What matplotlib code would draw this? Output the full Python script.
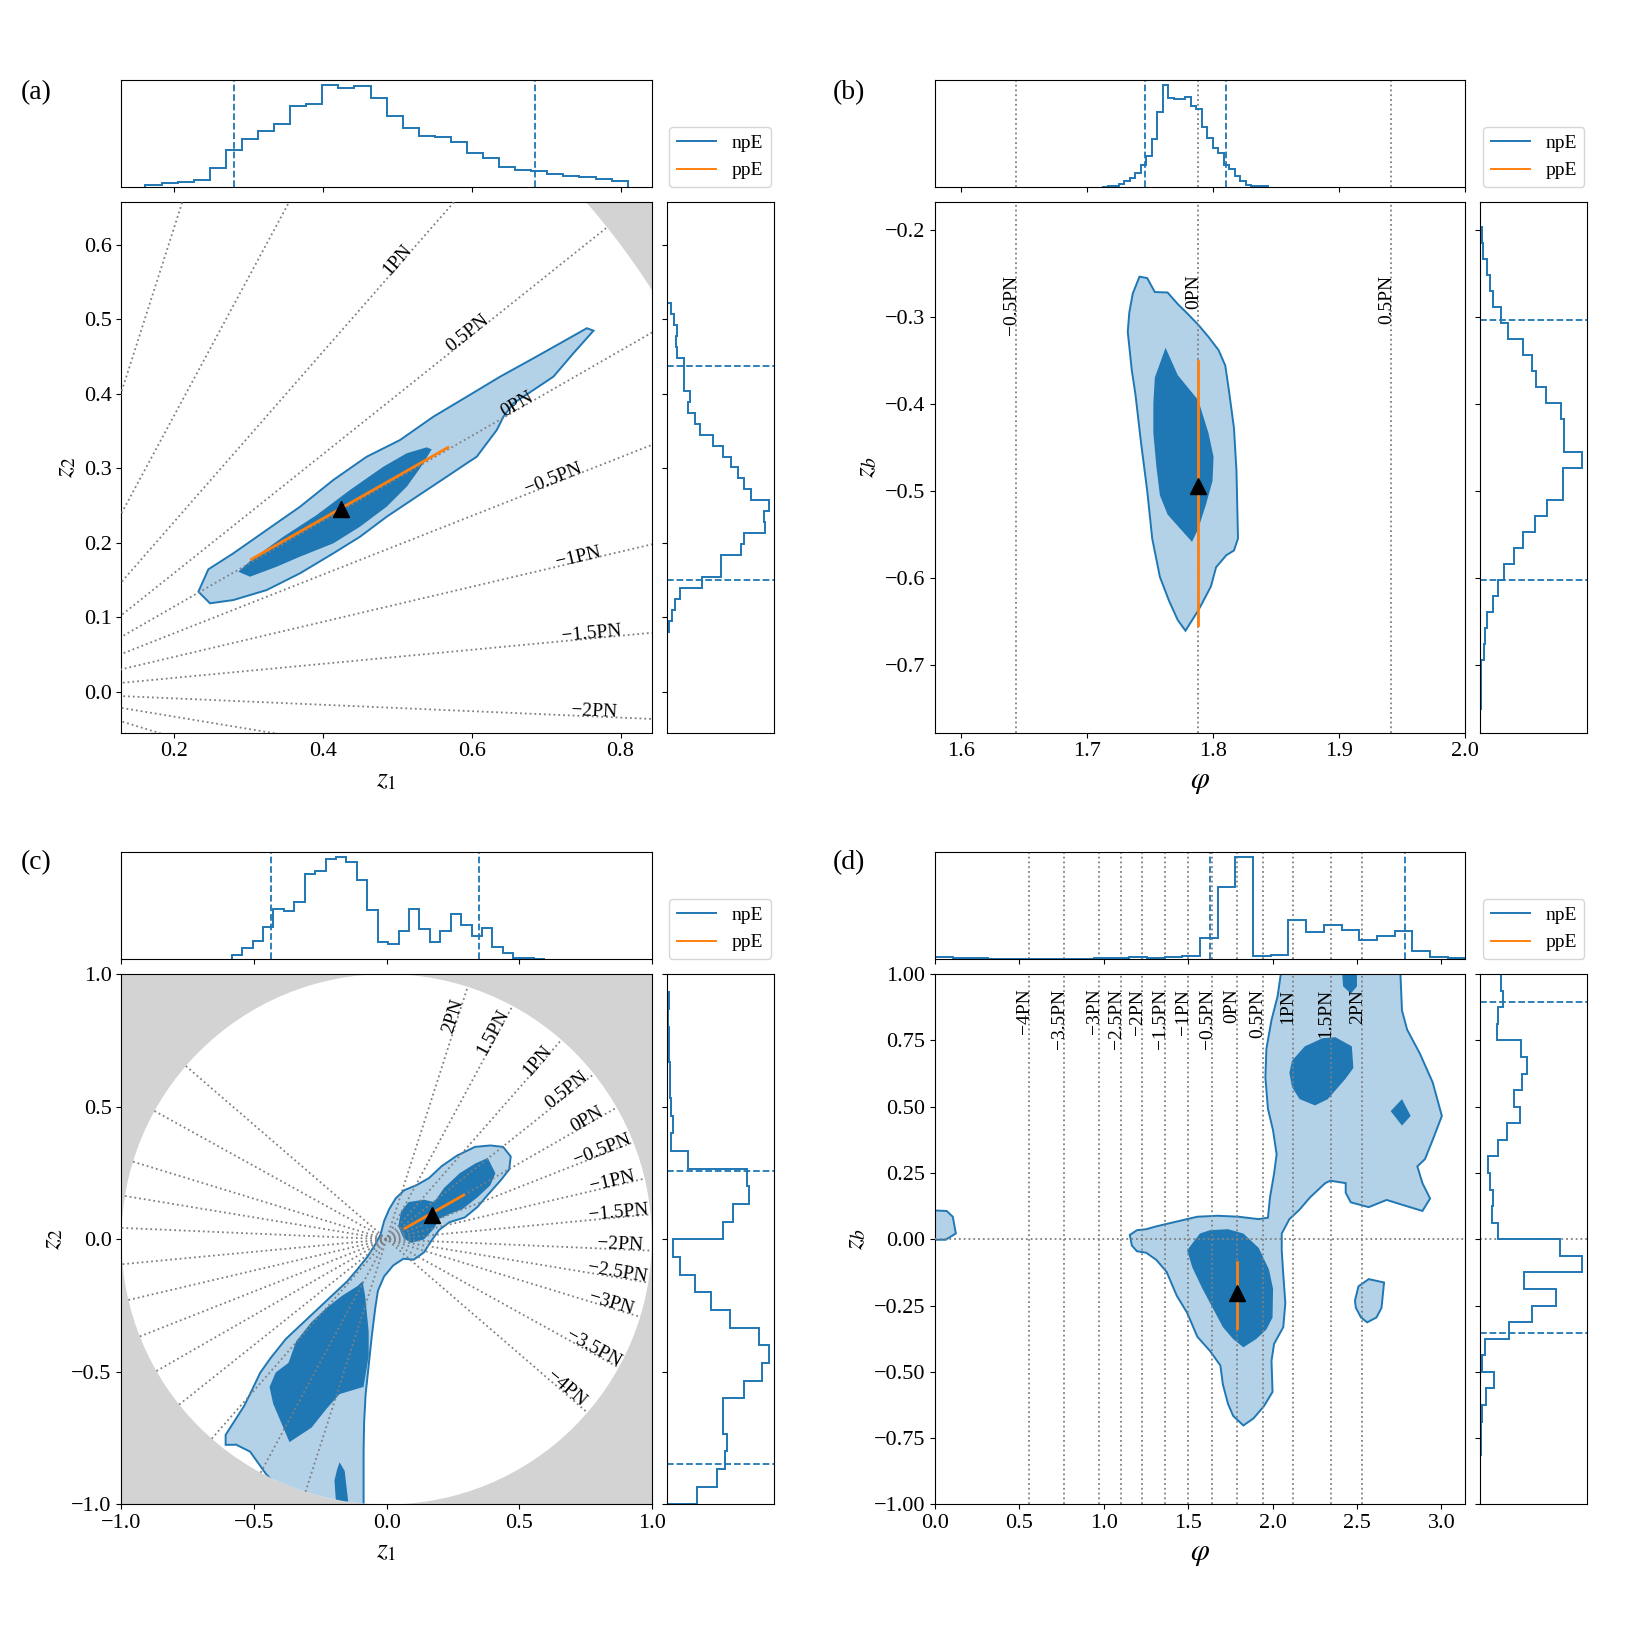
import numpy as np
import matplotlib
matplotlib.use("Agg")
import matplotlib.pyplot as plt
from matplotlib.patches import Polygon, Circle
from matplotlib.lines import Line2D

plt.rcParams['font.family'] = ['Liberation Serif', 'DejaVu Serif']
plt.rcParams['mathtext.fontset'] = 'stix'
plt.rcParams['axes.unicode_minus'] = True

# ---------------- PN reference lines ----------------
PN_LABELS = ['\u22124PN', '\u22123.5PN', '\u22123PN', '\u22122.5PN', '\u22122PN', '\u22121.5PN',
             '\u22121PN', '\u22120.5PN', '0PN', '0.5PN', '1PN', '1.5PN', '2PN']
PN_PHI = [0.556, 0.763, 0.971, 1.104, 1.225, 1.362, 1.499, 1.643, 1.788, 1.941, 2.119, 2.344, 2.528]
PHI_OFFSET = 1.268   # angle in the (z1, z2) plane = phi - PHI_OFFSET

# ---------------- panel (a) ----------------
A_TOP_RANGE = (0.1616, 0.8096)
A_TOP_COUNTS = [5, 8, 11, 15, 40, 77, 102, 117, 132, 169, 175, 213, 207, 211, 187,
                150, 125, 108, 106, 95, 72, 62, 43, 37, 34, 27, 23, 22, 18, 13]
A_TOP_CI = [0.280, 0.685]
A_RIGHT_RANGE = (0.081, 0.5213)
A_RIGHT_COUNTS = [7, 16, 25, 40, 105, 160, 162, 220, 230, 293, 289, 303, 251, 229, 211,
                  191, 166, 137, 100, 83, 62, 70, 51, 50, 50, 31, 29, 31, 23, 13]
A_RIGHT_CI = [0.1504, 0.4375]
A_OUTER_X = [0.2327, 0.2461, 0.2797, 0.3245, 0.3693, 0.4141, 0.4589, 0.5037, 0.5485, 0.5934,
             0.6382, 0.6830, 0.7189, 0.7547, 0.7637, 0.7367, 0.7098, 0.6830, 0.6561, 0.6427,
             0.6337, 0.6203, 0.6068, 0.5934, 0.5665, 0.5261, 0.4858, 0.4500, 0.4141, 0.3693,
             0.3245, 0.2797, 0.2483]
A_OUTER_Y = [0.1345, 0.1645, 0.1860, 0.2173, 0.2485, 0.2844, 0.3156, 0.3380, 0.3693, 0.3961,
             0.4230, 0.4477, 0.4678, 0.4880, 0.4847, 0.4544, 0.4230, 0.4051, 0.3873, 0.3693,
             0.3514, 0.3336, 0.3156, 0.3068, 0.2888, 0.2620, 0.2351, 0.2083, 0.1860, 0.1592,
             0.1367, 0.1233, 0.1189]
A_INNER_X = [0.2864, 0.3065, 0.3469, 0.3917, 0.4365, 0.4813, 0.5127, 0.5396, 0.5463, 0.5306,
             0.5127, 0.4858, 0.4500, 0.4141, 0.3693, 0.3379, 0.3021]
A_INNER_Y = [0.1613, 0.1793, 0.2083, 0.2374, 0.2710, 0.3022, 0.3202, 0.3282, 0.3254, 0.3001,
             0.2754, 0.2486, 0.2218, 0.1994, 0.1815, 0.1680, 0.1546]
A_PPE_X = [0.304, 0.568]
A_PPE_Y = [0.178, 0.328]
A_TRUE = (0.425, 0.246)

# ---------------- panel (b) ----------------
B_TOP_RANGE = (1.7119, 1.8432)
B_TOP_COUNTS = [2, 3, 5, 11, 18, 29, 43, 67, 92, 145, 225, 303, 265, 263, 263,
                270, 243, 233, 180, 147, 117, 103, 65, 55, 35, 20, 7, 5, 4, 3]
B_TOP_CI = [1.7456, 1.8101]
B_RIGHT_RANGE = (-0.7504, -0.196)
B_RIGHT_COUNTS = [1, 2, 3, 10, 15, 19, 37, 52, 70, 100, 127, 161, 199, 245, 245,
                  302, 249, 247, 240, 195, 165, 154, 128, 83, 62, 38, 29, 19, 9, 4]
B_RIGHT_CI = [-0.602, -0.3032]
B_OUTER_X = [1.7414, 1.7475, 1.7536, 1.7637, 1.7718, 1.7799, 1.7880, 1.7961, 1.8042, 1.8095,
             1.8123, 1.8164, 1.8184, 1.8196, 1.8164, 1.8103, 1.8022, 1.7981, 1.7921, 1.7880,
             1.7779, 1.7718, 1.7649, 1.7576, 1.7515, 1.7475, 1.7426, 1.7382, 1.7353, 1.7321,
             1.7333, 1.7361]
B_OUTER_Y = [-0.2536, -0.2552, -0.2713, -0.2718, -0.2851, -0.2967, -0.3088, -0.3227, -0.3381,
             -0.3558, -0.3834, -0.4276, -0.4773, -0.5547, -0.5685, -0.5740, -0.5878, -0.6099,
             -0.6265, -0.6376, -0.6608, -0.6486, -0.6265, -0.5989, -0.5547, -0.4994, -0.4442,
             -0.3890, -0.3613, -0.3171, -0.2950, -0.2729]
B_INNER_X = [1.7621, 1.7718, 1.7880, 1.7961, 1.8002, 1.7994, 1.7941, 1.7880, 1.7831, 1.7738,
             1.7637, 1.7576, 1.7548, 1.7524, 1.7524, 1.7536]
B_INNER_Y = [-0.3354, -0.3669, -0.3956, -0.4331, -0.4608, -0.4884, -0.5160, -0.5436, -0.5586,
             -0.5436, -0.5271, -0.5050, -0.4718, -0.4331, -0.4000, -0.3696]
B_PPE_X = [1.788, 1.788]
B_PPE_Y = [-0.351, -0.654]
B_TRUE = (1.788, -0.494)

# ---------------- panel (c) ----------------
C_TOP_RANGE = (-0.584, 0.596)
C_TOP_COUNTS = [12, 32, 52, 94, 147, 142, 167, 252, 259, 294, 300, 287, 234, 144, 50,
                45, 82, 149, 89, 49, 82, 132, 102, 69, 92, 37, 17, 2, 2, 1]
C_TOP_CI = [-0.4357, 0.349]
C_RIGHT_RANGE = (-1.0, 1.0)
C_RIGHT_COUNTS = [88, 150, 173, 178, 165, 165, 228, 283, 301, 273, 188, 130, 83, 38, 18,
                  165, 196, 243, 236, 63, 13, 18, 13, 10, 9, 8, 6, 3, 8, 2]
C_RIGHT_CI = [-0.846, 0.2565]
C_OUTER_X = [0.3911, 0.4393, 0.4682, 0.4624, 0.4297, 0.3815, 0.3430, 0.2948, 0.2370, 0.1985,
             0.1696, 0.1407, 0.1021, 0.0636, 0.0250, -0.0096, -0.0328, -0.0424, -0.0559,
             -0.0674, -0.0790, -0.0848, -0.0867, -0.0867, -0.3000, -0.4566, -0.5145, -0.5684,
             -0.5723, -0.6069, -0.6069, -0.5723, -0.5376, -0.5106, -0.4759, -0.4374, -0.3796,
             -0.3218, -0.2640, -0.2062, -0.1484, -0.1098, -0.0713, -0.0424, -0.0231, -0.0096,
             0.0096, 0.0347, 0.0674, 0.1118, 0.1599, 0.2081, 0.2659, 0.3333]
C_OUTER_Y = [0.3538, 0.3484, 0.3122, 0.2633, 0.2217, 0.1674, 0.1222, 0.0824, 0.0643, 0.0353,
             -0.0045, -0.0498, -0.0769, -0.0733, -0.0986, -0.1403, -0.1946, -0.2579, -0.3665,
             -0.4751, -0.5837, -0.6923, -0.8009, -1.0600, -1.0600, -0.8824, -0.8009, -0.7738,
             -0.7750, -0.7750, -0.7376, -0.6833, -0.6290, -0.5747, -0.5023, -0.4480, -0.3756,
             -0.3213, -0.2670, -0.2127, -0.1584, -0.1131, -0.0643, -0.0190, 0.0172, 0.0679,
             0.1131, 0.1548, 0.1855, 0.2036, 0.2308, 0.2760, 0.3158, 0.3484]
C_INNER1_X = [0.3815, 0.4104, 0.3911, 0.3430, 0.2852, 0.2370, 0.1985, 0.1792, 0.1407, 0.0925,
              0.0636, 0.0443, 0.0539, 0.0829, 0.1407, 0.1792, 0.2177, 0.2755, 0.3333]
C_INNER1_Y = [0.3068, 0.2489, 0.2036, 0.1584, 0.1131, 0.0950, 0.0769, 0.0407, -0.0009, -0.0136,
              0.0045, 0.0498, 0.1041, 0.1403, 0.1493, 0.1403, 0.1946, 0.2489, 0.2851]
C_INNER2_X = [-0.0906, -0.0809, -0.0674, -0.0674, -0.0867, -0.1291, -0.1773, -0.2254, -0.2832,
              -0.3661, -0.3892, -0.4277, -0.4412, -0.4181, -0.3699, -0.3410, -0.2832, -0.2254,
              -0.1676, -0.1098]
C_INNER2_Y = [-0.1584, -0.2127, -0.3484, -0.4389, -0.5566, -0.5692, -0.5837, -0.6380, -0.7104,
              -0.7647, -0.7104, -0.6199, -0.5566, -0.5023, -0.4661, -0.3846, -0.3122, -0.2579,
              -0.2127, -0.1765]
C_INNER3_X = [-0.1773, -0.1580, -0.1445, -0.1908, -0.1965, -0.1869]
C_INNER3_Y = [-0.8407, -0.8733, -0.9910, -0.9910, -0.9095, -0.8697]
C_PPE_X = [0.069, 0.291]
C_PPE_Y = [0.041, 0.167]
C_TRUE = (0.170, 0.090)

# ---------------- panel (d) ----------------
D_TOP_RANGE = (0.0, np.pi)
D_TOP_COUNTS = [7, 2, 2, 1, 1, 0.5, 0.5, 1, 1, 2, 2, 5, 2, 5, 10,
                62, 212, 300, 9, 11, 114, 79, 102, 85, 55, 69, 82, 25, 5, 3]
D_TOP_CI = [1.632, 2.787]
D_RIGHT_RANGE = (-1.0, 1.0)
D_RIGHT_COUNTS = [0.2, 0.3, 0.5, 1, 2, 4, 17, 42, 4, 14, 85, 155, 225, 129, 302, 237,
                  54, 34, 37, 30, 22, 52, 79, 117, 99, 124, 139, 122, 50, 54, 67, 62]
D_RIGHT_CI = [-0.3516, 0.8945]
D_OUTER_X = [1.1545, 1.1970, 1.2515, 1.3121, 1.4333, 1.5545, 1.6758, 1.7970, 1.9182, 1.9727,
             1.9848, 2.0091, 2.0242, 2.0030, 1.9727, 1.9576, 1.9636, 1.9939, 2.0303, 2.0485,
             2.0485, 2.7576, 2.7576, 2.7667, 2.7970, 2.8727, 2.9485, 3.0030, 2.9485, 2.9030,
             2.8576, 2.8879, 2.9333, 2.8879, 2.7667, 2.6758, 2.5697, 2.4636, 2.4333, 2.4333,
             2.3424, 2.3121, 2.2212, 2.1606, 2.1000, 2.0545, 2.0545, 2.0636, 2.0758, 2.0636,
             2.0091, 1.9939, 2.0000, 1.9485, 1.8879, 1.8273, 1.7667, 1.7364, 1.7061, 1.6909,
             1.6303, 1.5545, 1.4939, 1.4333, 1.4030, 1.3727, 1.3121, 1.2515, 1.1970, 1.1667]
D_OUTER_Y = [0.0163, 0.0344, 0.0380, 0.0489, 0.0670, 0.0851, 0.0887, 0.0851, 0.0760, 0.0814,
             0.1574, 0.2479, 0.3203, 0.4108, 0.4922, 0.6098, 0.7184, 0.8270, 0.9175, 0.9989,
             1.0600, 1.0600, 0.9989, 0.8632, 0.7908, 0.7003, 0.5917, 0.4651, 0.3746, 0.3022,
             0.2751, 0.2117, 0.1538, 0.1068, 0.1303, 0.1484, 0.1212, 0.1393, 0.1755, 0.2117,
             0.2208, 0.2117, 0.1574, 0.1122, 0.0760, 0.0217, -0.0416, -0.1321, -0.2407, -0.3312,
             -0.3945, -0.4578, -0.5755, -0.6298, -0.6750, -0.7021, -0.6659, -0.6207, -0.5483,
             -0.4759, -0.4216, -0.3674, -0.2769, -0.2135, -0.1683, -0.1231, -0.0778, -0.0507,
             -0.0452, -0.0235]
D_LEFT_X = [-0.05, 0.0, 0.0697, 0.1061, 0.1242, 0.0636, 0.0, -0.05]
D_LEFT_Y = [0.1086, 0.1086, 0.1068, 0.0851, 0.0217, -0.0018, -0.0018, -0.0018]
D_RIGHT_ISL_X = [2.4879, 2.5091, 2.5697, 2.6606, 2.6455, 2.6152, 2.5606, 2.5242, 2.4939]
D_RIGHT_ISL_Y = [-0.2316, -0.1773, -0.1502, -0.1629, -0.2588, -0.2950, -0.3131, -0.2950, -0.2588]
D_INNER1_X = [1.4939, 1.5697, 1.6303, 1.7364, 1.8273, 1.9182, 1.9788, 2.0030, 2.0000, 1.9636,
              1.9030, 1.8273, 1.7667, 1.7061, 1.6455, 1.5848, 1.5242]
D_INNER1_Y = [-0.0416, 0.0217, 0.0344, 0.0380, 0.0217, -0.0326, -0.1140, -0.1864, -0.2950,
              -0.3402, -0.3764, -0.4072, -0.3764, -0.3312, -0.2588, -0.1864, -0.1050]
D_INNER2_X = [2.1152, 2.1909, 2.2970, 2.3727, 2.4697, 2.4788, 2.4333, 2.3273, 2.2515, 2.1606,
              2.1152, 2.1000]
D_INNER2_Y = [0.6732, 0.7275, 0.7582, 0.7618, 0.7275, 0.6460, 0.6062, 0.5284, 0.5049, 0.5284,
              0.5737, 0.6279]
D_INNER3_X = [2.7000, 2.7667, 2.8182, 2.7667]
D_INNER3_Y = [0.4832, 0.5284, 0.4651, 0.4289]
D_INNER4_X = [2.4091, 2.5000, 2.5000, 2.4636, 2.4182]
D_INNER4_Y = [1.03, 1.03, 0.9537, 0.9265, 0.9537]
D_PPE_X = [1.788, 1.788]
D_PPE_Y = [-0.087, -0.335]
D_TRUE = (1.788, -0.204)

LIMITS = {
    'a': ((0.1292, 0.842), (-0.0546, 0.657)),
    'b': ((1.579, 2.0), (-0.778, -0.168)),
    'c': ((-1.0, 1.0), (-1.0, 1.0)),
    'd': ((0.0, np.pi), (-1.0, 1.0)),
}

LIGHT = '#b3d1e7'
DARK = '#1f77b4'
TICK_FS = 16
LABEL_FS = 20
PN_FS = 14

fig = plt.figure(figsize=(16.27, 16.27), dpi=100)

W = 0.326
HW = 0.0657
GAP = 0.0092
COLS = [0.0746, 0.5746]
ROWS = [0.5497, 0.0753]


def make_axes(col, row):
    x0, y0 = COLS[col], ROWS[row]
    ax = fig.add_axes([x0, y0, W, W])
    axt = fig.add_axes([x0, y0 + W + GAP, W, HW], sharex=ax)
    axr = fig.add_axes([x0 + W + GAP, y0, HW, W], sharey=ax)
    axc = fig.add_axes([x0 + W + GAP, y0 + W + GAP, HW, HW])
    axc.axis('off')
    for a in (ax, axt, axr):
        a.tick_params(labelsize=TICK_FS)
    axt.tick_params(labelbottom=False)
    axt.set_yticks([])
    axr.tick_params(labelleft=False)
    axr.set_xticks([])
    return ax, axt, axr, axc


def top_hist(axt, rng, counts, ci):
    edges = np.linspace(rng[0], rng[1], len(counts) + 1)
    axt.hist(edges[:-1], bins=edges, weights=counts, histtype='step', color='C0', lw=1.4)
    for v in ci:
        axt.axvline(v, color='C0', ls='--', lw=1.3)
    axt.set_ylim(0, max(counts) * 1.05)


def right_hist(axr, rng, counts, ci):
    edges = np.linspace(rng[0], rng[1], len(counts) + 1)
    axr.hist(edges[:-1], bins=edges, weights=counts, histtype='step', color='C0', lw=1.4,
             orientation='horizontal')
    for v in ci:
        axr.axhline(v, color='C0', ls='--', lw=1.3)
    axr.set_xlim(0, max(counts) * 1.05)


def regions(ax, outers, inners, clip=None):
    arts = []
    for xs, ys in outers:
        p = Polygon(np.column_stack([xs, ys]), closed=True, fc=LIGHT, ec='none', zorder=1)
        ax.add_patch(p)
        q = Polygon(np.column_stack([xs, ys]), closed=True, fc='none', ec='C0', lw=1.4, zorder=2)
        ax.add_patch(q)
        arts += [p, q]
    for xs, ys in inners:
        p = Polygon(np.column_stack([xs, ys]), closed=True, fc=DARK, ec='none', zorder=1.5)
        ax.add_patch(p)
        arts.append(p)
    if clip is not None:
        for a in arts:
            a.set_clip_path(clip)


def polar_pn(ax, label_r, lims):
    (x0, x1), (y0, y1) = lims
    for lab, phi in zip(PN_LABELS, PN_PHI):
        th = phi - PHI_OFFSET
        c, s = np.cos(th), np.sin(th)
        ax.plot([-c, c], [-s, s], color='grey', ls=':', lw=1.3, zorder=3)
        tx, ty = label_r * c, label_r * s
        if x0 + 0.03 < tx < x1 - 0.03 and y0 + 0.02 < ty < y1 - 0.02:
            ax.text(tx, ty, lab, rotation=np.degrees(th), rotation_mode='anchor',
                    ha='center', va='baseline', fontsize=PN_FS, zorder=6)


def phi_pn(ax, axt, label_y, lims):
    (x0, x1), _ = lims
    for lab, phi in zip(PN_LABELS, PN_PHI):
        if x0 < phi < x1:
            ax.axvline(phi, color='grey', ls=':', lw=1.3, zorder=3)
            axt.axvline(phi, color='grey', ls=':', lw=1.3, zorder=0.5)
            ax.annotate(lab, (phi, label_y), xytext=(-4.5, 0), textcoords='offset pixels',
                        rotation=90, ha='center', va='top', fontsize=PN_FS, zorder=6)


def markers(ax, px, py, true):
    ax.plot(px, py, color='C1', lw=2.0, zorder=4)
    ax.plot([true[0]], [true[1]], marker='^', color='black', ms=12, ls='none', zorder=5)


def legend(axc):
    h = [Line2D([], [], color='C0', lw=1.4), Line2D([], [], color='C1', lw=1.4)]
    axc.legend(h, ['npE', 'ppE'], loc='lower center', bbox_to_anchor=(0.5, 0.0),
               borderaxespad=0.0, fontsize=14)


# ---- (a)
ax, axt, axr, axc = make_axes(0, 0)
ax.set_facecolor('lightgrey')
ax.add_patch(Circle((0, 0), 1.0, fc='white', ec='none', zorder=0))
regions(ax, [(A_OUTER_X, A_OUTER_Y)], [(A_INNER_X, A_INNER_Y)])
polar_pn(ax, 0.765, LIMITS['a'])
markers(ax, A_PPE_X, A_PPE_Y, A_TRUE)
top_hist(axt, A_TOP_RANGE, A_TOP_COUNTS, A_TOP_CI)
right_hist(axr, A_RIGHT_RANGE, A_RIGHT_COUNTS, A_RIGHT_CI)
ax.set_xlim(*LIMITS['a'][0]); ax.set_ylim(*LIMITS['a'][1])
ax.set_xticks([0.2, 0.4, 0.6, 0.8]); ax.set_yticks([0.0, 0.1, 0.2, 0.3, 0.4, 0.5, 0.6])
ax.set_xlabel('$z_1$', fontsize=LABEL_FS); ax.set_ylabel('$z_2$', fontsize=LABEL_FS)
legend(axc)

# ---- (b)
ax, axt, axr, axc = make_axes(1, 0)
regions(ax, [(B_OUTER_X, B_OUTER_Y)], [(B_INNER_X, B_INNER_Y)])
phi_pn(ax, axt, -0.251, LIMITS['b'])
markers(ax, B_PPE_X, B_PPE_Y, B_TRUE)
top_hist(axt, B_TOP_RANGE, B_TOP_COUNTS, B_TOP_CI)
right_hist(axr, B_RIGHT_RANGE, B_RIGHT_COUNTS, B_RIGHT_CI)
ax.set_xlim(*LIMITS['b'][0]); ax.set_ylim(*LIMITS['b'][1])
ax.set_xticks([1.6, 1.7, 1.8, 1.9, 2.0]); ax.set_yticks([-0.7, -0.6, -0.5, -0.4, -0.3, -0.2])
ax.set_xlabel(r'$\varphi$', fontsize=LABEL_FS + 2); ax.set_ylabel('$z_b$', fontsize=LABEL_FS)
legend(axc)

# ---- (c)
ax, axt, axr, axc = make_axes(0, 1)
ax.set_facecolor('lightgrey')
circ = Circle((0, 0), 1.0, fc='white', ec='none', zorder=0)
ax.add_patch(circ)
regions(ax, [(C_OUTER_X, C_OUTER_Y)],
        [(C_INNER1_X, C_INNER1_Y), (C_INNER2_X, C_INNER2_Y), (C_INNER3_X, C_INNER3_Y)], clip=circ)
polar_pn(ax, 0.88, LIMITS['c'])
markers(ax, C_PPE_X, C_PPE_Y, C_TRUE)
top_hist(axt, C_TOP_RANGE, C_TOP_COUNTS, C_TOP_CI)
right_hist(axr, C_RIGHT_RANGE, C_RIGHT_COUNTS, C_RIGHT_CI)
ax.set_xlim(*LIMITS['c'][0]); ax.set_ylim(*LIMITS['c'][1])
ax.set_xticks([-1.0, -0.5, 0.0, 0.5, 1.0]); ax.set_yticks([-1.0, -0.5, 0.0, 0.5, 1.0])
ax.set_xlabel('$z_1$', fontsize=LABEL_FS); ax.set_ylabel('$z_2$', fontsize=LABEL_FS)
legend(axc)

# ---- (d)
ax, axt, axr, axc = make_axes(1, 1)
regions(ax, [(D_OUTER_X, D_OUTER_Y), (D_LEFT_X, D_LEFT_Y), (D_RIGHT_ISL_X, D_RIGHT_ISL_Y)],
        [(D_INNER1_X, D_INNER1_Y), (D_INNER2_X, D_INNER2_Y), (D_INNER3_X, D_INNER3_Y),
         (D_INNER4_X, D_INNER4_Y)])
phi_pn(ax, axt, 0.945, LIMITS['d'])
ax.axhline(0.0, color='grey', ls=':', lw=1.3, zorder=3)
axr.axhline(0.0, color='grey', ls=':', lw=1.3, zorder=0.5)
markers(ax, D_PPE_X, D_PPE_Y, D_TRUE)
top_hist(axt, D_TOP_RANGE, D_TOP_COUNTS, D_TOP_CI)
right_hist(axr, D_RIGHT_RANGE, D_RIGHT_COUNTS, D_RIGHT_CI)
ax.set_xlim(*LIMITS['d'][0]); ax.set_ylim(*LIMITS['d'][1])
ax.set_xticks([0.0, 0.5, 1.0, 1.5, 2.0, 2.5, 3.0])
ax.set_yticks([-1.0, -0.75, -0.5, -0.25, 0.0, 0.25, 0.5, 0.75, 1.0])
ax.set_xlabel(r'$\varphi$', fontsize=LABEL_FS + 2); ax.set_ylabel('$z_b$', fontsize=LABEL_FS)
legend(axc)

# panel labels
for lab, x, y in [('(a)', 0.0129, 0.943), ('(b)', 0.512, 0.943),
                  ('(c)', 0.0129, 0.4696), ('(d)', 0.512, 0.4696)]:
    fig.text(x, y, lab, fontsize=20, ha='left', va='center')

fig.savefig('out.png', dpi=100)
